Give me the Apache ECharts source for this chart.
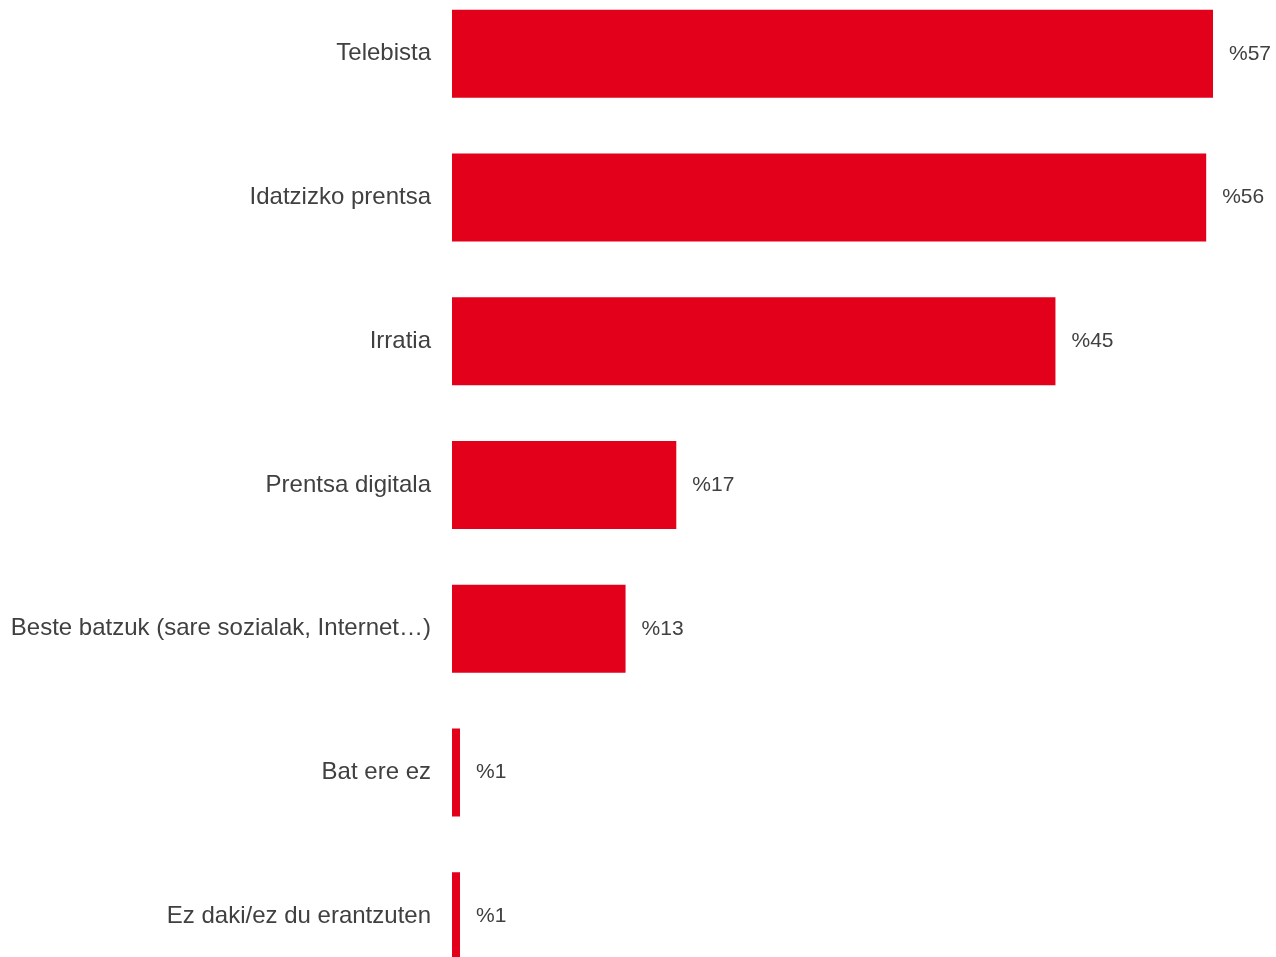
<!DOCTYPE html>
<html>
<head>
<meta charset="utf-8">
<script src="https://cdn.jsdelivr.net/npm/echarts@6/dist/echarts.min.js"></script>
<style>
  html, body { margin: 0; padding: 0; background: #fff; overflow: hidden; }
  /* grafikoa orria baino garaiagoa da: azken barra behean mozten da */
  #chart { width: 1276px; height: 1006px; margin-top: -18px; }
</style>
</head>
<body>
<div id="chart"></div>
<script>
  // kategoriak (goitik behera)
  const categories = [
    'Telebista',
    'Idatzizko prentsa',
    'Irratia',
    'Prentsa digitala',
    'Beste batzuk (sare sozialak, Internet…)',
    'Bat ere ez',
    'Ez daki/ez du erantzuten'
  ]
  // balioak (%), irudian irakurrita
  const values = [57, 56.49, 45.2, 16.8, 13.0, 0.6, 0.6]

  const chart = echarts.init(document.getElementById('chart'))
  const option = {
    animation: false,
    grid: {
      left: 452,
      right: 63,
      top: 0,
      bottom: 0
    },
    xAxis: {
      type: 'value',
      min: 0,
      max: 57,
      show: false
    },
    yAxis: {
      type: 'category',
      inverse: true,
      data: categories,
      axisLine: { show: false },
      axisTick: { show: false },
      axisLabel: {
        margin: 21,
        padding: [5, 0, 0, 0],
        color: '#404040',
        fontSize: 24,
        fontFamily: 'Liberation Sans, Arial, sans-serif'
      }
    },
    series: [
      {
        type: 'bar',
        data: values,
        barWidth: 88,
        itemStyle: { color: '#E2001A' },
        label: {
          show: true,
          position: 'right',
          distance: 16,
          padding: [5, 0, 0, 0],
          color: '#404040',
          fontSize: 21,
          fontFamily: 'Liberation Sans, Arial, sans-serif',
          formatter: p => '%' + Math.round(p.value)
        }
      }
    ]
  }
  chart.setOption(option)
</script>
</body>
</html>
